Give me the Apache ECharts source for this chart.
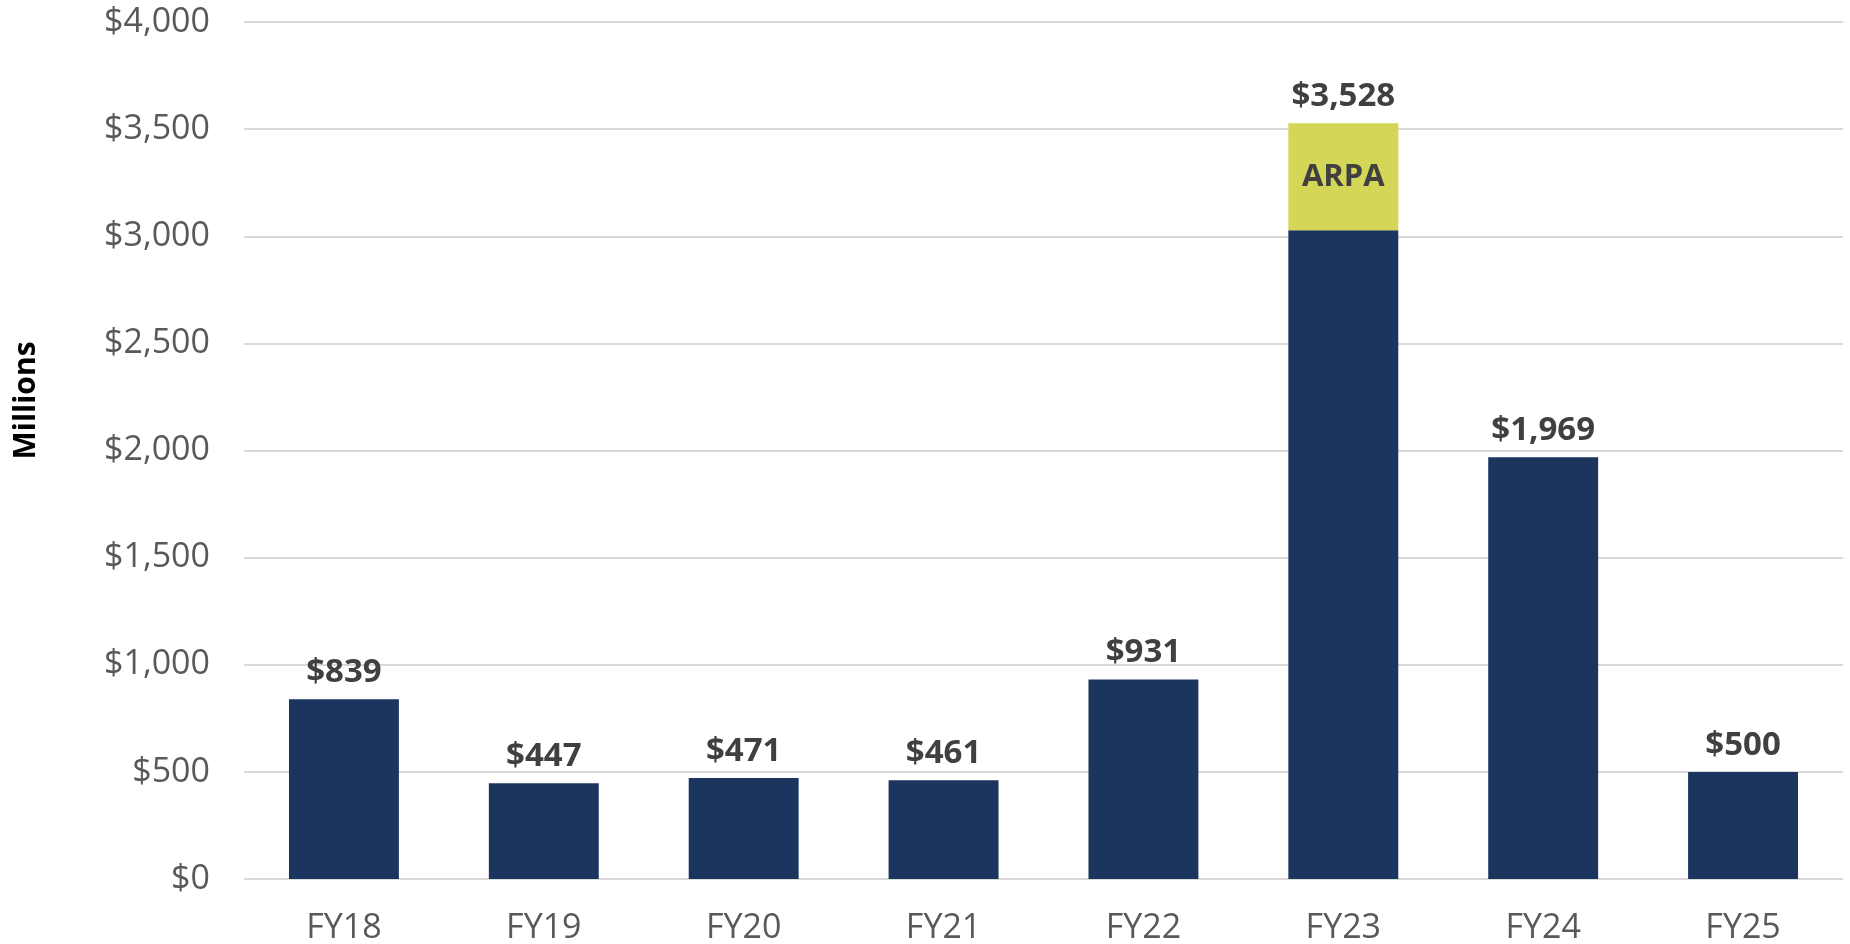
<!DOCTYPE html>
<head>
  <script src="https://cdn.jsdelivr.net/npm/echarts@6/dist/echarts.min.js"></script>
  <style>
    html,body{margin:0;padding:0;background:#fff;}
    #chart{width:1850px;height:944px;}
  </style>
</head>
<body>
  <div id="chart"></div>
  <script>
    var years = ['FY18','FY19','FY20','FY21','FY22','FY23','FY24','FY25'];
    var baseFunds = [839, 447, 471, 461, 931, 3028, 1969, 500];
    var arpaFunds = [0, 0, 0, 0, 0, 500, 0, 0];
    var totals = [839, 447, 471, 461, 931, 3528, 1969, 500];
    var yTicks = [0, 500, 1000, 1500, 2000, 2500, 3000, 3500, 4000];

    var font = '"Open Sans", "Noto Sans", sans-serif';
    function money(v){ return '$' + v.toLocaleString('en-US'); }

    var chart = echarts.init(document.getElementById('chart'));
    chart.setOption({
      animation: false,
      grid: {left: 244, right: 7, top: 22, bottom: 65, containLabel: false, outerBoundsMode: 'none'},
      xAxis: {
        type: 'category',
        data: years,
        axisLine: {show: false},
        axisTick: {show: false},
        axisLabel: {color: '#595959', fontSize: 34, fontFamily: font, margin: 22}
      },
      yAxis: {
        type: 'value',
        min: yTicks[0],
        max: yTicks[yTicks.length - 1],
        interval: 500,
        name: 'Millions',
        nameLocation: 'middle',
        nameGap: 190,
        nameRotate: 90,
        nameTextStyle: {color: '#000', fontSize: 30, fontWeight: 'bold', fontFamily: font, padding: [0, 0, 0, 100]},
        axisLine: {show: false},
        axisTick: {show: false},
        axisLabel: {color: '#595959', fontSize: 34, fontFamily: font, margin: 34, formatter: money},
        splitLine: {lineStyle: {color: '#d9d9d9', width: 2}}
      },
      series: [
        {
          type: 'bar',
          stack: 'total',
          data: baseFunds,
          barWidth: '55%',
          itemStyle: {color: '#1c355e'}
        },
        {
          type: 'bar',
          stack: 'total',
          data: arpaFunds,
          itemStyle: {color: '#d3d656'},
          label: {
            show: true,
            position: 'inside',
            formatter: function(p){ return p.value ? 'ARPA' : ''; },
            color: '#404040',
            fontSize: 31,
            fontWeight: 'bold',
            fontFamily: font
          }
        },
        {
          type: 'bar',
          stack: 'total',
          data: years.map(function(){ return 0; }),
          itemStyle: {color: 'transparent'},
          label: {
            show: true,
            position: 'top',
            distance: -4,
            formatter: function(p){ return money(totals[p.dataIndex]); },
            color: '#404040',
            fontSize: 33,
            fontWeight: 'bold',
            fontFamily: font
          }
        }
      ]
    });
  </script>
</body>
